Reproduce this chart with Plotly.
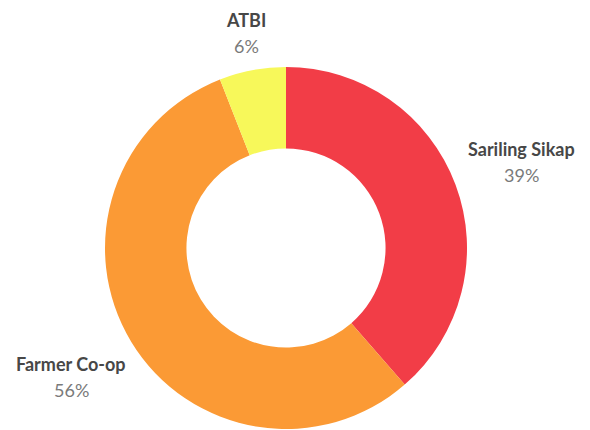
import plotly.graph_objects as go

labels = ["Sariling Sikap", "Farmer Co-op", "ATBI"]
values = [39, 56, 6]
colors = ["#F23D47", "#FB9A35", "#F7F85A"]

# label text positions on screen (pixels)
label_x = [521, 71, 246]
label_y = [149, 364, 20]

OFF = 8  # page body margin
L, R, T, B = 97, 123, 59, 1
PW = PH = 362
W, H = L + PW + R, T + PH + B

fig = go.Figure(go.Pie(
    labels=labels, values=values, sort=False, direction="clockwise",
    rotation=0, hole=0.55, marker=dict(colors=colors, line=dict(width=0)),
    textinfo="none", hoverinfo="label+percent", showlegend=False,
))


def px(x):
    return (x - OFF - L) / PW


def py(y):
    return 1 - (y - OFF - T) / PH


for lab, val, x, y in zip(labels, values, label_x, label_y):
    fig.add_annotation(
        x=px(x), y=py(y), xref="paper", yref="paper", showarrow=False,
        text=f"<b>{lab}</b>", font=dict(family="Lato", size=18, color="#474747"),
        xanchor="center", yanchor="middle",
    )
    fig.add_annotation(
        x=px(x), y=py(y + 26), xref="paper", yref="paper", showarrow=False,
        text=f"{val}%", font=dict(family="Lato", size=18, color="#7a7a7a"),
        xanchor="center", yanchor="middle",
    )

fig.update_layout(
    width=W, height=H,
    margin=dict(l=L, r=R, t=T, b=B),
    paper_bgcolor="white", plot_bgcolor="white",
)
fig.write_html("out.html")
